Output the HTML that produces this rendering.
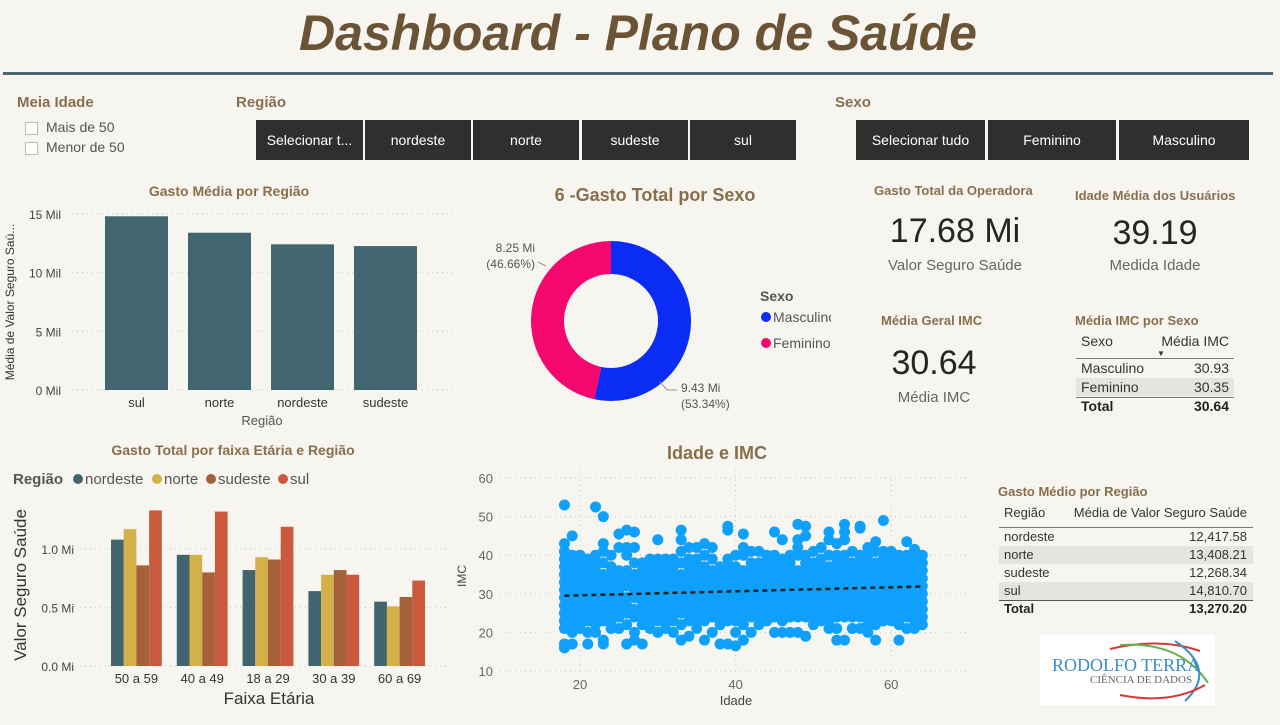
<!DOCTYPE html>
<html><head><meta charset="utf-8">
<style>
body{margin:0;background:#f7f5f0;font-family:"Liberation Sans","DejaVu Sans",sans-serif;}
#root{position:relative;width:1280px;height:725px;overflow:hidden;background:#f7f5f0;}
.a{position:absolute;white-space:nowrap;}
.lbl{color:#8a6e4b;font-weight:bold;font-size:15px;}
.btn{position:absolute;top:120px;height:40px;background:#2f2f2f;color:#fff;font-size:14px;display:flex;align-items:center;justify-content:center;}
.chk{position:absolute;width:11px;height:11px;border:1px solid #bbb;background:#fff;}
.t{font-size:13px;color:#8a6e4b;font-weight:bold;}
</style></head><body>
<div id="root">
<div class="a" style="left:0;width:1276px;text-align:center;top:4px;font-size:50px;font-weight:bold;font-style:italic;color:#6b5335;">Dashboard - Plano de Saúde</div>
<div class="a" style="left:3px;top:72px;width:1270px;height:3px;background:#4a6670;"></div>

<div class="a lbl" style="left:17px;top:94px;">Meia Idade</div>
<div class="chk" style="left:25px;top:122px;"></div>
<div class="a" style="left:46px;top:119px;font-size:14px;color:#555;">Mais de 50</div>
<div class="chk" style="left:25px;top:142px;"></div>
<div class="a" style="left:46px;top:139px;font-size:14px;color:#555;">Menor de 50</div>

<div class="a lbl" style="left:236px;top:94px;">Região</div>
<div class="btn" style="left:256px;width:107px;">Selecionar t...</div>
<div class="btn" style="left:365px;width:106px;">nordeste</div>
<div class="btn" style="left:473px;width:106px;">norte</div>
<div class="btn" style="left:582px;width:106px;">sudeste</div>
<div class="btn" style="left:690px;width:106px;">sul</div>

<div class="a lbl" style="left:835px;top:94px;">Sexo</div>
<div class="btn" style="left:856px;width:129px;">Selecionar tudo</div>
<div class="btn" style="left:988px;width:128px;">Feminino</div>
<div class="btn" style="left:1119px;width:130px;">Masculino</div>

<!-- KPIs -->
<div class="a t" style="left:874px;top:183px;">Gasto Total da Operadora</div>
<div class="a" style="left:855px;width:200px;text-align:center;top:212px;font-size:34px;color:#252525;">17.68 Mi</div>
<div class="a" style="left:855px;width:200px;text-align:center;top:257px;font-size:15px;color:#666;">Valor Seguro Saúde</div>
<div class="a t" style="left:1075px;top:188px;">Idade Média dos Usuários</div>
<div class="a" style="left:1055px;width:200px;text-align:center;top:214px;font-size:34px;color:#252525;">39.19</div>
<div class="a" style="left:1055px;width:200px;text-align:center;top:257px;font-size:15px;color:#666;">Medida Idade</div>
<div class="a t" style="left:881px;top:313px;">Média Geral IMC</div>
<div class="a" style="left:834px;width:200px;text-align:center;top:344px;font-size:34px;color:#252525;">30.64</div>
<div class="a" style="left:834px;width:200px;text-align:center;top:389px;font-size:15px;color:#666;">Média IMC</div>

<!-- IMC por sexo table -->
<div class="a t" style="left:1075px;top:313px;">Média IMC por Sexo</div>
<div class="a" style="left:1081px;top:333px;font-size:14px;color:#333;">Sexo</div>
<div class="a" style="left:1150px;width:79px;text-align:right;top:333px;font-size:14px;color:#333;">Média IMC</div>
<div class="a" style="left:1157px;top:349px;font-size:8px;color:#333;">▼</div>
<div class="a" style="left:1076px;top:358px;width:158px;height:1px;background:#777;"></div>
<div class="a" style="left:1076px;top:378px;width:158px;height:18px;background:#e6e4e0;"></div>
<div class="a" style="left:1081px;top:360px;width:148px;font-size:14px;color:#333;">Masculino<span style="float:right">30.93</span></div>
<div class="a" style="left:1081px;top:379px;width:148px;font-size:14px;color:#333;">Feminino<span style="float:right">30.35</span></div>
<div class="a" style="left:1076px;top:397px;width:158px;height:1px;background:#777;"></div>
<div class="a" style="left:1081px;top:398px;width:148px;font-size:14px;font-weight:bold;color:#222;">Total<span style="float:right">30.64</span></div>

<!-- Gasto medio table -->
<div class="a t" style="left:998px;top:484px;">Gasto Médio por Região</div>
<div class="a" style="left:1004px;top:505px;width:243px;font-size:13px;color:#333;">Região<span style="float:right">Média de Valor Seguro Saúde</span></div>
<div class="a" style="left:999px;top:527px;width:254px;height:1px;background:#777;"></div>
<div class="a" style="left:999px;top:546px;width:254px;height:18px;background:#e6e4e0;"></div>
<div class="a" style="left:999px;top:582px;width:254px;height:18px;background:#e6e4e0;"></div>
<div class="a" style="left:1004px;top:529px;width:243px;font-size:13px;color:#333;">nordeste<span style="float:right">12,417.58</span></div>
<div class="a" style="left:1004px;top:547px;width:243px;font-size:13px;color:#333;">norte<span style="float:right">13,408.21</span></div>
<div class="a" style="left:1004px;top:565px;width:243px;font-size:13px;color:#333;">sudeste<span style="float:right">12,268.34</span></div>
<div class="a" style="left:1004px;top:583px;width:243px;font-size:13px;color:#333;">sul<span style="float:right">14,810.70</span></div>
<div class="a" style="left:999px;top:600px;width:254px;height:1px;background:#555;"></div>
<div class="a" style="left:1004px;top:601px;width:243px;font-size:13px;font-weight:bold;color:#222;">Total<span style="float:right">13,270.20</span></div>

<!-- logo -->
<div class="a" style="left:1040px;top:635px;width:175px;height:70px;background:#fff;">
<svg width="175" height="70" style="position:absolute;left:0;top:0">
<path d="M70 14 Q120 2 160 16" stroke="#d23a3a" stroke-width="2" fill="none"/>
<path d="M80 10 Q140 6 168 48" stroke="#6ab04c" stroke-width="2" fill="none"/>
<path d="M135 6 Q178 35 145 66" stroke="#3a8fc8" stroke-width="2" fill="none"/>
<path d="M80 60 Q130 70 165 50" stroke="#d23a3a" stroke-width="2" fill="none"/>
</svg>
<div class="a" style="left:12px;top:20px;font-family:'Liberation Serif',serif;font-size:18px;color:#3a8fc8;">RODOLFO TERRA</div>
<div class="a" style="left:50px;top:39px;font-family:'Liberation Serif',serif;font-size:11px;color:#666;">CIÊNCIA DE DADOS</div>
</div>

<svg id="charts" width="1280" height="725" style="position:absolute;left:0;top:0"></svg>
</div>
<script>
// ---- Chart 1: Gasto Média por Região
const c1Cats=["sul","norte","nordeste","sudeste"];
const c1Vals=[14.81,13.41,12.42,12.27];
const c1Ticks=[0,5,10,15];
// ---- Chart 2: Gasto total por faixa etária e região
const c2Cats=["50 a 59","40 a 49","18 a 29","30 a 39","60 a 69"];
const c2Series=["nordeste","norte","sudeste","sul"];
const c2Nordeste=[1.08,0.95,0.82,0.64,0.55];
const c2Norte=[1.17,0.95,0.93,0.78,0.51];
const c2Sudeste=[0.86,0.80,0.91,0.82,0.59];
const c2Sul=[1.33,1.32,1.19,0.78,0.73];
const c2Ticks=[0,0.5,1.0];
// ---- Donut
const dLabels=["Masculino","Feminino"];
const dVals=[9.43,8.25];
// ---- Scatter: ages and IMC lists per age
const scAges=[18,19,20,21,22,23,24,25,26,27,28,29,30,31,32,33,34,35,36,37,38,39,40,41,42,43,44,45,46,47,48,49,50,51,52,53,54,55,56,57,58,59,60,61,62,63,64];
const scImc=[
[53,43,41,39,37,35,33,31,29,27,25,23,21,17,16],
[45,40,38,36,34,32,30,28,26,24,22,20,17],
[40,38,36,34,32,30,28,26,24,22,21],
[39,37,35,33,31,29,27,25,23,20,17],
[52.5,40,38,36,34,32,30,28,26,24,22,20],
[50,43,41,38,35,33,31,29,27,25,23,18,17],
[40,37,35,33,31,29,27,25,23,21],
[45.5,42,36,34,32,30,28,26,24,21],
[46.5,42,40,36,34,32,29,27,25,22,17],
[46,42,38,35,33,31,29,26,24,20,18],
[38,36,34,32,30,28,26,24,22,17],
[39,37,35,33,31,29,27,25,23,21],
[44,39,37,35,33,31,29,27,25,23,20],
[39,37,35,33,31,29,27,25,23,21],
[39,37,35,33,31,29,27,25,23,20],
[46.5,44,41,38,35,33,31,29,27,25,22,18],
[42,39,37,35,33,31,29,27,25,23,19],
[42,39,37,35,33,31,29,27,25,23,21],
[43,40,37,35,33,31,29,27,25,23,18],
[42,39,36,34,32,30,28,26,24,20],
[37,35,33,31,29,27,25,23,22,17],
[47.5,46.5,39,37,35,33,31,29,27,25,23,17],
[40,37,35,33,31,29,27,25,23,20,16.5],
[45.5,42,40,36,34,32,30,28,26,24,22,18],
[41,38,36,34,32,30,28,26,24,20],
[41,38,36,34,32,30,28,26,24,22],
[40,38,36,34,32,30,28,26,24,23],
[46,40,38,36,34,32,30,28,26,24,20],
[44,39,37,35,33,31,29,27,25,23,20],
[40,38,36,34,32,30,28,26,24,20],
[48,44,42,40,36,34,32,30,28,26,24,20],
[47.5,45,40,38,36,34,32,30,28,26,24,19],
[41,38,36,34,32,30,28,26,24,22],
[42,39,37,35,33,31,29,27,25,23],
[46,44,40,37,35,33,31,29,27,25,23,21],
[43,40,38,36,34,32,30,28,26,24,21,18],
[48,46,44,40,38,36,34,32,30,28,26,24,18],
[41,38,36,34,32,30,28,26,24,21],
[47.5,47,40,38,36,34,32,30,28,26,24,21],
[42,40,38,36,34,32,30,28,26,24,22,20],
[43.5,41,38,36,34,32,30,28,26,24,22,18],
[49,41,39,37,35,33,31,29,27,25,23],
[41,39,37,35,33,31,29,27,25,23],
[40,38,36,34,32,30,28,26,24,22,18],
[43.5,40,38,36,34,32,30,28,26,24,21],
[41.5,39,37,35,33,31,29,27,25,23,21],
[40,38,36,34,32,30,28,26,24,22]
];
const scTrend=[29.5,31.9];
const scXTicks=[20,40,60];
const scYTicks=[10,20,30,40,50,60];

const NS="http://www.w3.org/2000/svg";
const svg=document.getElementById('charts');
function mk(tag,attrs,parent){const e=document.createElementNS(NS,tag);for(const k in attrs)e.setAttribute(k,attrs[k]);(parent||svg).appendChild(e);return e;}
function txt(s,attrs){const e=mk('text',attrs);e.textContent=s;return e;}
const F='"Liberation Sans","DejaVu Sans",sans-serif';

// Chart 1
{
 const y=v=>390-v*11.73, x0=95, bw=83;
 let t=txt('Gasto Média por Região',{x:229,y:196,'text-anchor':'middle','font-size':14,'font-weight':'bold',fill:'#8a6e4b','font-family':F});
 
 
 c1Ticks.forEach(v=>{
  const l=mk('line',{x1:72,x2:455,y1:y(v),y2:y(v),stroke:'#c8c8c8','stroke-dasharray':'1 4'});
  
  
  const tt=txt(v+' Mil',{x:61,y:y(v)+5,'text-anchor':'end','font-size':12,fill:'#444','font-family':F});
  
  
 });
 c1Cats.forEach((c,i)=>{
  const cx=x0+bw*i+bw/2;
  const r=mk('rect',{x:cx-31.5,y:y(c1Vals[i]),width:63,height:c1Vals[i]*11.73,fill:'#41666f'});
  
  
  const tt=txt(c,{x:cx,y:407,'text-anchor':'middle','font-size':13,fill:'#333','font-family':F});
  
  
 });
 t=txt('Região',{x:262,y:425,'text-anchor':'middle','font-size':13,fill:'#555','font-family':F});
 
 
 t=txt('Média de Valor Seguro Saú...',{x:0,y:0,transform:'translate(14,302) rotate(-90)','text-anchor':'middle','font-size':12,fill:'#333','font-family':F});
 
 
}

// Chart 2
{
 const y=v=>666-v*117;
 const cols=['#41646e','#d4b04a','#a5613a','#c95a3e'];
 const series=[c2Nordeste,c2Norte,c2Sudeste,c2Sul];
 let t=txt('Gasto Total por faixa Etária e Região',{x:233,y:455,'text-anchor':'middle','font-size':14,'font-weight':'bold',fill:'#8a6e4b','font-family':F});
 
 
 t=txt('Região',{x:13,y:484,'font-size':15,'font-weight':'bold',fill:'#555','font-family':F});
 
 
 const lx=[78,157,211,283];
 c2Series.forEach((s,i)=>{
  const c=mk('circle',{cx:lx[i],cy:479,r:5,fill:cols[i]});
  
  
  const tt=txt(s,{x:lx[i]+7,y:484,'font-size':15,fill:'#555','font-family':F});
  
  
 });
 c2Ticks.forEach(v=>{
  const l=mk('line',{x1:80,x2:450,y1:y(v),y2:y(v),stroke:'#c8c8c8','stroke-dasharray':'1 4'});
  
  
  const tt=txt(v.toFixed(1)+' Mi',{x:74,y:y(v)+5,'text-anchor':'end','font-size':12,fill:'#444','font-family':F});
  
  
 });
 c2Cats.forEach((c,i)=>{
  const gx=111+i*65.8;
  series.forEach((s,j)=>{
   const r=mk('rect',{x:gx+j*12.7,y:y(s[i]),width:12.7,height:s[i]*117,fill:cols[j]});
   
   
  });
  const tt=txt(c,{x:gx+25.4,y:683,'text-anchor':'middle','font-size':13,fill:'#333','font-family':F});
  
  
 });
 t=txt('Faixa Etária',{x:269,y:704,'text-anchor':'middle','font-size':17,fill:'#333','font-family':F});
 
 
 t=txt('Valor Seguro Saúde',{x:0,y:0,transform:'translate(26,585) rotate(-90)','text-anchor':'middle','font-size':17,fill:'#333','font-family':F});
 
 
}

// Donut
{
 const cx=611,cy=321,R=80,r=47;
 const total=dVals.reduce((a,b)=>a+b,0);
 const cols=['#0a2cf5','#f5086e'];
 let t=txt('6 -Gasto Total por Sexo',{x:655,y:201,'text-anchor':'middle','font-size':18,'font-weight':'bold',fill:'#8a6e4b','font-family':F});
 
 
 let a0=-Math.PI/2;
 dVals.forEach((v,i)=>{
  const a1=a0+v/total*2*Math.PI;
  const big=(a1-a0)>Math.PI?1:0;
  const p=(rad,a)=>[cx+rad*Math.cos(a),cy+rad*Math.sin(a)];
  const [x1,y1]=p(R,a0),[x2,y2]=p(R,a1),[x3,y3]=p(r,a1),[x4,y4]=p(r,a0);
  const s=mk('path',{d:`M${x1} ${y1} A${R} ${R} 0 ${big} 1 ${x2} ${y2} L${x3} ${y3} A${r} ${r} 0 ${big} 0 ${x4} ${y4}Z`,fill:cols[i]});
  
  
  a0=a1;
 });
 const pct=dVals.map(v=>(v/total*100).toFixed(2)+'%');
 let l=mk('path',{d:'M538 262 L546 266',stroke:'#999',fill:'none'});
 
 
 l=mk('path',{d:'M660 382 L667 390 L677 390',stroke:'#999',fill:'none'});
 
 
 t=txt(dVals[1].toFixed(2)+' Mi',{x:535,y:252,'text-anchor':'end','font-size':12,fill:'#555','font-family':F});
 
 
 t=txt('('+pct[1]+')',{x:535,y:268,'text-anchor':'end','font-size':12,fill:'#555','font-family':F});
 
 
 t=txt(dVals[0].toFixed(2)+' Mi',{x:681,y:392,'font-size':12,fill:'#555','font-family':F});
 
 
 t=txt('('+pct[0]+')',{x:681,y:408,'font-size':12,fill:'#555','font-family':F});
 
 
 t=txt('Sexo',{x:760,y:301,'font-size':14,'font-weight':'bold',fill:'#555','font-family':F});
 
 
 const cp=mk('clipPath',{id:'lgclip'});mk('rect',{x:755,y:300,width:76,height:60},cp);
 dLabels.forEach((d,i)=>{
  const c=mk('circle',{cx:766,cy:317+i*26,r:5,fill:cols[i]});
  
  
  const tt=txt(d,{x:773,y:322+i*26,'font-size':14,fill:'#555','font-family':F,'clip-path':'url(#lgclip)'});
  
  
 });
}

// Scatter
{
 const x=v=>580+(v-20)*7.78, y=v=>671-(v-10)*3.86;
 let t=txt('Idade e IMC',{x:717,y:459,'text-anchor':'middle','font-size':18,'font-weight':'bold',fill:'#8a6e4b','font-family':F});
 
 
 scYTicks.forEach(v=>{
  const l=mk('line',{x1:500,x2:970,y1:y(v),y2:y(v),stroke:'#c8c8c8','stroke-dasharray':'1 4'});
  
  
  const tt=txt(v,{x:493,y:y(v)+5,'text-anchor':'end','font-size':13,fill:'#666','font-family':F});
  
  
 });
 scXTicks.forEach(v=>{
  const l=mk('line',{x1:x(v),x2:x(v),y1:470,y2:671,stroke:'#c8c8c8','stroke-dasharray':'1 4'});
  
  
  const tt=txt(v,{x:x(v),y:689,'text-anchor':'middle','font-size':13,fill:'#666','font-family':F});
  
  
 });
 const g=mk('g',{fill:'#0fa0fb'});
 
 
 scAges.forEach((a,i)=>{
  scImc[i].forEach(v=>{
   const c=mk('circle',{cx:x(a),cy:y(v),r:5.5},g);
   
   
  });
 });
 const tl=mk('line',{x1:x(scAges[0]),y1:y(scTrend[0]),x2:x(scAges[scAges.length-1]),y2:y(scTrend[1]),stroke:'#222','stroke-width':2.5,'stroke-dasharray':'5 4'});
 
 
 t=txt('Idade',{x:736,y:705,'text-anchor':'middle','font-size':13,fill:'#444','font-family':F});
 
 
 t=txt('IMC',{x:0,y:0,transform:'translate(466,576) rotate(-90)','text-anchor':'middle','font-size':12,fill:'#444','font-family':F});
 
 
}
</script>
</body></html>
